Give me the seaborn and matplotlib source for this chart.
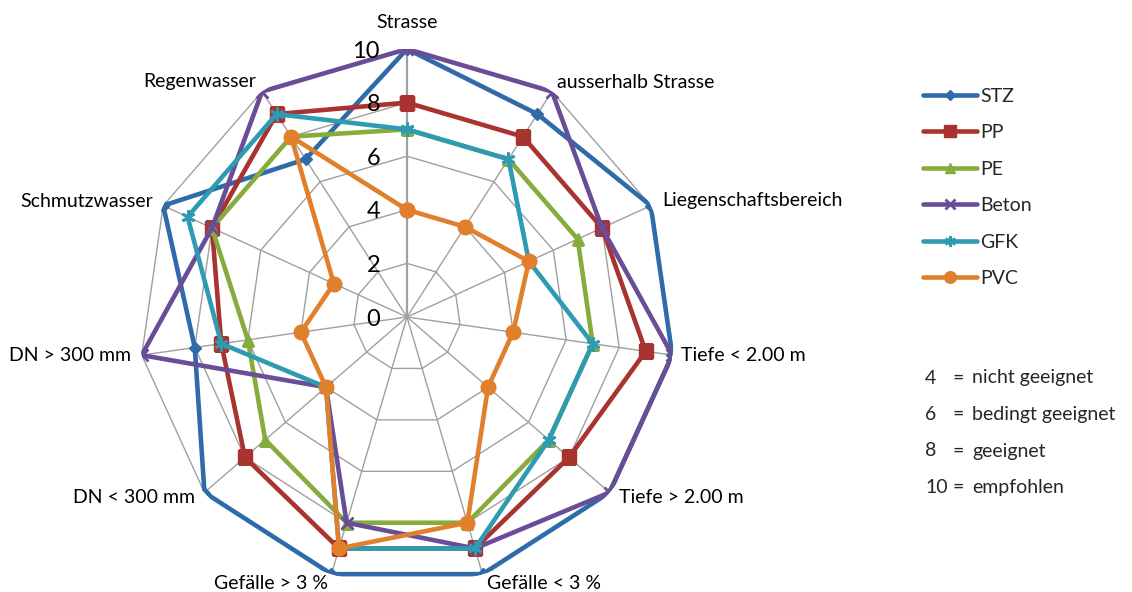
import numpy as np
import pandas as pd
import seaborn as sns
import matplotlib.pyplot as plt

categories = ['Strasse', 'ausserhalb Strasse', 'Liegenschaftsbereich', 'Tiefe < 2.00 m',
              'Tiefe > 2.00 m', 'Gefälle < 3 %', 'Gefälle > 3 %', 'DN < 300 mm',
              'DN > 300 mm', 'Schmutzwasser', 'Regenwasser']
stz = [10, 9, 10, 10, 10, 10, 10, 10, 8, 10, 7]
pp = [8, 8, 8, 9, 8, 9, 9, 8, 7, 8, 9]
pe = [7, 7, 7, 7, 7, 8, 8, 7, 6, 8, 8]
beton = [10, 10, 8, 10, 10, 9, 8, 4, 10, 8, 10]
gfk = [7, 7, 5, 7, 7, 9, 9, 4, 7, 9, 9]
pvc = [4, 4, 5, 4, 4, 8, 9, 4, 4, 3, 8]
ring_ticks = [0, 2, 4, 6, 8, 10]
notes_num = ['4', '6', '8', '10']
notes_text = ['nicht geeignet', 'bedingt geeignet', 'geeignet', 'empfohlen']

series = [('STZ', stz, '#2f6ba8', 'D', 6.5),
          ('PP', pp, '#a8332f', 's', 10),
          ('PE', pe, '#86ac3e', '^', 9),
          ('Beton', beton, '#6a4d97', 'x', 9),
          ('GFK', gfk, '#2e9bb3', (6, 2, 0), 10),
          ('PVC', pvc, '#e07f2c', 'o', 10.5)]

sns.set_theme(style='white')
plt.rcParams['font.family'] = ['Lato', 'DejaVu Sans']

n = len(categories)
angles = np.linspace(0, 2 * np.pi, n, endpoint=False)
closed = np.append(angles, 2 * np.pi)

fig = plt.figure(figsize=(11.32, 5.92), dpi=100)
ax = fig.add_axes([139 / 1132, 7 / 592, 536 / 1132, 536 / 592], projection='polar')
ax.set_theta_offset(np.pi / 2)
ax.set_theta_direction(-1)
ax.axis('off')

# polygon web
grid_col = '#a0a0a0'
for r in ring_ticks[1:]:
    ax.plot(closed, [r] * (n + 1), color=grid_col, lw=1.0, zorder=1)
for i, a in enumerate(angles):
    ax.plot([a, a], [0, 10], color=grid_col, lw=1.6 if i == 0 else 1.0, zorder=1)

for name, vals, col, mk, ms in series:
    df = pd.DataFrame({'theta': closed, 'value': vals + vals[:1]})
    sns.lineplot(data=df, x='theta', y='value', ax=ax, sort=False, color=col, lw=3.3,
                 marker=mk, markersize=ms, markeredgecolor=col, markerfacecolor=col,
                 markeredgewidth=2 if mk in ('x', (6, 2, 0)) else 1, label=name, zorder=3)
ax.set_ylim(0, 10)

# category labels
fs = 14
offsets = [(0, 26, 'center'), (5, 9, 'left'), (11, 5, 'left'), (9, 0, 'left'),
           (9, -5, 'left'), (4, -9, 'left'), (-3, -9, 'right'), (-9, -5, 'right'),
           (-11, 0, 'right'), (-10, 4, 'right'), (-6, 10, 'right')]
for a, cat, (dx, dy, ha) in zip(angles, categories, offsets):
    ax.annotate(cat, xy=(a, 10), xytext=(dx, dy), textcoords='offset pixels',
                ha=ha, va='center', fontsize=fs, color='black', annotation_clip=False)

for v in ring_ticks:
    ax.annotate(str(v), xy=(0, v), xytext=(-27, 0), textcoords='offset pixels',
                ha='right', va='center_baseline', fontsize=17, color='black')

leg = ax.legend(loc='upper left', bbox_to_anchor=(913 / 1132, 1 - 78 / 592),
                bbox_transform=fig.transFigure, frameon=False, fontsize=fs,
                handlelength=2.8, handletextpad=0.15, labelspacing=1.0, borderpad=0,
                markerscale=0.8)

for i, (num, txt) in enumerate(zip(notes_num, notes_text)):
    y = 1 - (378 + i * 36.5) / 592
    fig.text(925 / 1132, y, num, ha='left', va='center', fontsize=fs)
    fig.text(952 / 1132, y, '=', ha='left', va='center', fontsize=fs)
    fig.text(972 / 1132, y, txt, ha='left', va='center', fontsize=fs)

fig.savefig('out.png', dpi=100)
